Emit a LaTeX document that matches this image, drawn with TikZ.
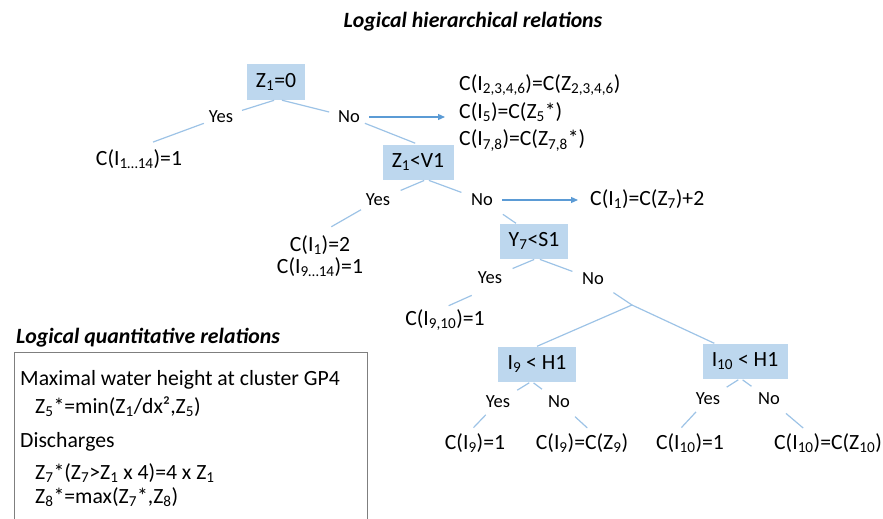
\documentclass[tikz,border=0pt]{standalone}
\usepackage{fontspec}
\setmainfont{Carlito}
\usetikzlibrary{arrows.meta}
\definecolor{boxblue}{HTML}{BDD7EE}
\definecolor{lineblue}{HTML}{9DC3E6}
\definecolor{arrowblue}{HTML}{5B9BD5}
\definecolor{framegrey}{HTML}{7F7F7F}
\newcommand{\low}[1]{\textsubscript{#1}}

\begin{document}
\begin{tikzpicture}[x=1pt, y=-1pt, font=\fontsize{21.7}{26}\selectfont,
		test/.style = {fill=boxblue, minimum height=35pt, inner xsep=3pt},
		answer/.style = {inner sep=3pt, font=\fontsize{18.5}{22}\selectfont},
		leaf/.style = {inner sep=2pt},
		note/.style = {anchor=west, inner sep=0pt},
		heading/.style = {inner sep=0pt, font=\fontsize{21.8}{26}\selectfont\bfseries\itshape},
		link/.style = {draw=lineblue, line width=1.2pt, shorten <=2pt, shorten >=6pt},
		jump/.style = {draw=arrowblue, line width=1.2pt, -{Triangle[length=7pt,width=6pt]}}]
		\useasboundingbox (0,0) rectangle (883,519);
		\clip (0,0) rectangle (883,519);
		\node[heading] (htitle) at (473,22) {Logical hierarchical relations};
		\node[test, minimum width=58pt] (z1) at (276,82) {Z\low{1}=0};
		\node[answer] (z1yes) at (221,117) {Yes};
		\node[answer] (z1no) at (349,117) {No};
		\node[leaf] (allone) at (139,159) {C(I\low{1…14})=1};
		\node[leaf, anchor=west, align=left, font=\fontsize{21.7}{27.5}\selectfont] (z1res) at (457,113) {C(I\low{2,3,4,6})=C(Z\low{2,3,4,6})\\C(I\low{5})=C(Z\low{5}*)\\C(I\low{7,8})=C(Z\low{7,8}*)};
		\node[test, minimum width=71pt] (v1) at (418,162) {Z\low{1}<V1};
		\node[answer] (v1yes) at (378,200) {Yes};
		\node[answer] (v1no) at (482,200) {No};
		\node[leaf, align=center, font=\fontsize{21.7}{22}\selectfont] (v1leaf) at (320,256) {C(I\low{1})=2\\C(I\low{9…14})=1};
		\node[leaf, anchor=west] (v1res) at (588,199) {C(I\low{1})=C(Z\low{7})+2};
		\node[test, minimum width=68pt] (y7) at (534,241) {Y\low{7}<S1};
		\node[answer] (y7yes) at (490,278) {Yes};
		\node[answer] (y7no) at (593,279) {No};
		\node[leaf] (y7leaf) at (445,320) {C(I\low{9,10})=1};
		\coordinate (fork) at (632,305);
		\node[test, minimum width=78pt] (i9) at (537,364) {I\low{9} < H1};
		\node[test, minimum width=85pt] (i10) at (745,361) {I\low{10} < H1};
		\node[answer] (i9yes) at (498,402) {Yes};
		\node[answer] (i9no) at (559,402) {No};
		\node[answer] (i10yes) at (708,399) {Yes};
		\node[answer] (i10no) at (769,399) {No};
		\node[leaf] (i9one) at (475,443) {C(I\low{9})=1};
		\node[leaf] (i9z) at (582,443) {C(I\low{9})=C(Z\low{9})};
		\node[leaf] (i10one) at (690,443) {C(I\low{10})=1};
		\node[leaf] (i10z) at (828,443) {C(I\low{10})=C(Z\low{10})};
		\draw[link] (z1.south) -- (z1yes);
		\draw[link] ([xshift=4pt]z1.south) -- (z1no);
		\draw[link, shorten >=15pt] (z1yes) -- (allone.north);
		\draw[jump, shorten <=6pt, shorten >=12pt] (z1no) -- (z1no -| z1res.west);
		\draw[link, shorten >=3pt] (z1no) -- (v1.north);
		\draw[link, shorten >=8pt] ([xshift=8pt]v1.south) -- (v1yes);
		\draw[link, shorten >=7pt] ([xshift=9pt]v1.south) -- (v1no);
		\draw[link, shorten >=13pt] (v1yes) -- (v1leaf.north);
		\draw[jump, shorten <=6pt, shorten >=10pt] (v1no) -- (v1no -| v1res.west);
		\draw[link, shorten <=9pt, shorten >=0pt] (v1no) -- ([xshift=-18pt]y7.north);
		\draw[link, shorten >=8pt] ([xshift=2pt]y7.south) -- (y7yes);
		\draw[link, shorten >=7pt] ([xshift=4pt]y7.south) -- (y7no);
		\draw[link, shorten <=20pt, shorten >=4pt] (y7yes.south) -- (y7leaf.north);
		\draw[link, shorten <=8pt, shorten >=0pt] (y7no) -- (fork);
		\draw[link, shorten <=0pt, shorten >=0pt] (fork) -- (i9.north);
		\draw[link, shorten <=0pt, shorten >=0pt] (fork) -- ([xshift=12pt]i10.north west);
		\draw[link, shorten >=5pt] ([xshift=-6pt]i9.south) -- (i9yes);
		\draw[link, shorten >=6pt] ([xshift=-5pt]i9.south) -- (i9no);
		\draw[link, shorten <=5pt, shorten >=5pt] (i9yes) -- ([xshift=-5pt]i9one.north);
		\draw[link, shorten <=8pt, shorten >=5pt] (i9no) -- ([xshift=9pt]i9z.north);
		\draw[link, shorten >=5pt] ([xshift=-5pt]i10.south) -- (i10yes);
		\draw[link, shorten >=6pt] ([xshift=-4pt]i10.south) -- (i10no);
		\draw[link, shorten <=5pt, shorten >=5pt] (i10yes) -- ([xshift=-12pt]i10one.north);
		\draw[link, shorten <=8pt, shorten >=5pt] (i10no) -- ([xshift=-21pt]i10z.north);
		\node[heading] (qtitle) at (148,338) {Logical quantitative relations};
		\node[draw=framegrey, line width=1pt, anchor=north west, minimum width=353pt, minimum height=200pt] (qbox) at (14,352) {};
		\node[note] (waterhead) at (20,380) {Maximal water height at cluster GP4};
		\node[note] (waterformula) at (35,407) {Z\low{5}*=min(Z\low{1}/dx²,Z\low{5})};
		\node[note] (dischead) at (20,442) {Discharges};
		\node[note] (discone) at (35,473) {Z\low{7}*(Z\low{7}>Z\low{1} x 4)=4 x Z\low{1}};
		\node[note] (disctwo) at (35,497) {Z\low{8}*=max(Z\low{7}*,Z\low{8})};
	\end{tikzpicture}
\end{document}
